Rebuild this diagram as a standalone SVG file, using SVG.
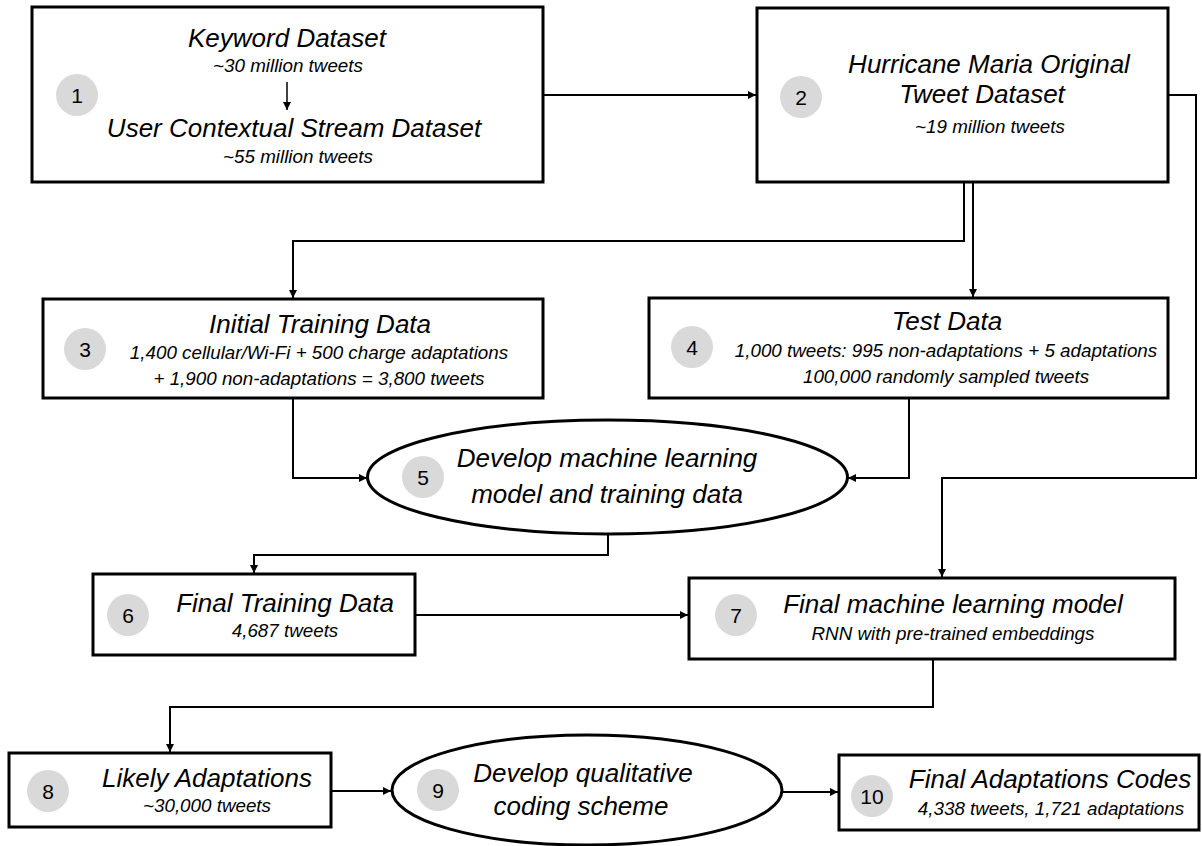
<svg xmlns="http://www.w3.org/2000/svg" width="1202" height="846" viewBox="0 0 1202 846">
<defs>
<style>
.box{fill:#fff;stroke:#000;stroke-width:3}
.ell{fill:#fff;stroke:#000;stroke-width:3}
.num{fill:#d9d9d9}
.nt{font-family:"Liberation Sans",Arial,sans-serif;font-size:21px;fill:#000;text-anchor:middle}
.t{font-family:"Liberation Sans",Arial,sans-serif;font-style:italic;font-size:26px;fill:#000;text-anchor:middle}
.s{font-family:"Liberation Sans",Arial,sans-serif;font-style:italic;font-size:18.8px;fill:#000;text-anchor:middle}
.c{fill:none;stroke:#000;stroke-width:2}
</style>
<marker id="ah" viewBox="0 0 10 10" refX="10" refY="5" markerWidth="9" markerHeight="8" markerUnits="userSpaceOnUse" orient="auto">
<path d="M0,0 L10,5 L0,10 Z" fill="#000"/>
</marker>
</defs>
<rect width="1202" height="846" fill="#fff"/>

<g id="connectors">
<path class="c" d="M543,95 H756" marker-end="url(#ah)"/>
<path class="c" d="M1168,95 H1196 V478 H942 V577" marker-end="url(#ah)"/>
<path class="c" d="M964,182 V241 H293 V298" marker-end="url(#ah)"/>
<path class="c" d="M973,182 V297" marker-end="url(#ah)"/>
<path class="c" d="M293,398 V478 H367" marker-end="url(#ah)"/>
<path class="c" d="M909,398 V478 H848" marker-end="url(#ah)"/>
<path class="c" d="M608,534 V555 H254 V573" marker-end="url(#ah)"/>
<path class="c" d="M415,615 H688" marker-end="url(#ah)"/>
<path class="c" d="M933,659 V707 H170 V752" marker-end="url(#ah)"/>
<path class="c" d="M331,791 H391" marker-end="url(#ah)"/>
<path class="c" d="M782,792 H838" marker-end="url(#ah)"/>
</g>

<g id="node1">
<rect class="box" x="32" y="7" width="511" height="175"/>
<circle class="num" cx="77" cy="95" r="21"/>
<text class="nt" x="77" y="103">1</text>
<text class="t" x="287" y="47">Keyword Dataset</text>
<text class="s" x="288" y="72">~30 million tweets</text>
<path d="M287,82 V110" fill="none" stroke="#000" stroke-width="1.5" marker-end="url(#ah)"/>
<text class="t" x="294" y="137">User Contextual Stream Dataset</text>
<text class="s" x="298" y="163">~55 million tweets</text>
</g>

<g id="node2">
<rect class="box" x="757" y="8" width="411" height="174"/>
<circle class="num" cx="801" cy="97" r="21"/>
<text class="nt" x="801" y="105">2</text>
<text class="t" x="989" y="73">Hurricane Maria Original</text>
<text class="t" x="982" y="103">Tweet Dataset</text>
<text class="s" x="990" y="133">~19 million tweets</text>
</g>

<g id="node3">
<rect class="box" x="43" y="299" width="500" height="99"/>
<circle class="num" cx="85" cy="349" r="21"/>
<text class="nt" x="85" y="357">3</text>
<text class="t" x="320" y="333">Initial Training Data</text>
<text class="s" x="319" y="359">1,400 cellular/Wi-Fi + 500 charge adaptations</text>
<text class="s" x="319" y="385">+ 1,900 non-adaptations = 3,800 tweets</text>
</g>

<g id="node4">
<rect class="box" x="649" y="298" width="519" height="100"/>
<circle class="num" cx="692" cy="347" r="21"/>
<text class="nt" x="692" y="355">4</text>
<text class="t" x="947" y="330">Test Data</text>
<text class="s" x="946" y="357">1,000 tweets: 995 non-adaptations + 5 adaptations</text>
<text class="s" x="946" y="383">100,000 randomly sampled tweets</text>
</g>

<g id="node5">
<ellipse class="ell" cx="607.5" cy="477" rx="240" ry="57"/>
<circle class="num" cx="423" cy="477" r="21"/>
<text class="nt" x="423" y="485">5</text>
<text class="t" x="607" y="467">Develop machine learning</text>
<text class="t" x="607" y="503">model and training data</text>
</g>

<g id="node6">
<rect class="box" x="93" y="574" width="322" height="81"/>
<circle class="num" cx="128" cy="615" r="21"/>
<text class="nt" x="128" y="623">6</text>
<text class="t" x="285" y="612">Final Training Data</text>
<text class="s" x="285" y="637">4,687 tweets</text>
</g>

<g id="node7">
<rect class="box" x="689" y="578" width="486" height="81"/>
<circle class="num" cx="736" cy="615" r="21"/>
<text class="nt" x="736" y="623">7</text>
<text class="t" x="953" y="613">Final machine learning model</text>
<text class="s" x="953" y="640">RNN with pre-trained embeddings</text>
</g>

<g id="node8">
<rect class="box" x="9" y="753" width="322" height="74"/>
<circle class="num" cx="48" cy="791" r="21"/>
<text class="nt" x="48" y="799">8</text>
<text class="t" x="207" y="787">Likely Adaptations</text>
<text class="s" x="207" y="812">~30,000 tweets</text>
</g>

<g id="node9">
<ellipse class="ell" cx="587" cy="790" rx="195" ry="55"/>
<circle class="num" cx="438" cy="790" r="21"/>
<text class="nt" x="438" y="798">9</text>
<text class="t" x="583" y="782">Develop qualitative</text>
<text class="t" x="581" y="815">coding scheme</text>
</g>

<g id="node10">
<rect class="box" x="839" y="755" width="360" height="75"/>
<circle class="num" cx="872" cy="796" r="21"/>
<text class="nt" x="872" y="804">10</text>
<text class="t" x="1050" y="788">Final Adaptations Codes</text>
<text class="s" x="1051" y="815">4,338 tweets, 1,721 adaptations</text>
</g>
</svg>
